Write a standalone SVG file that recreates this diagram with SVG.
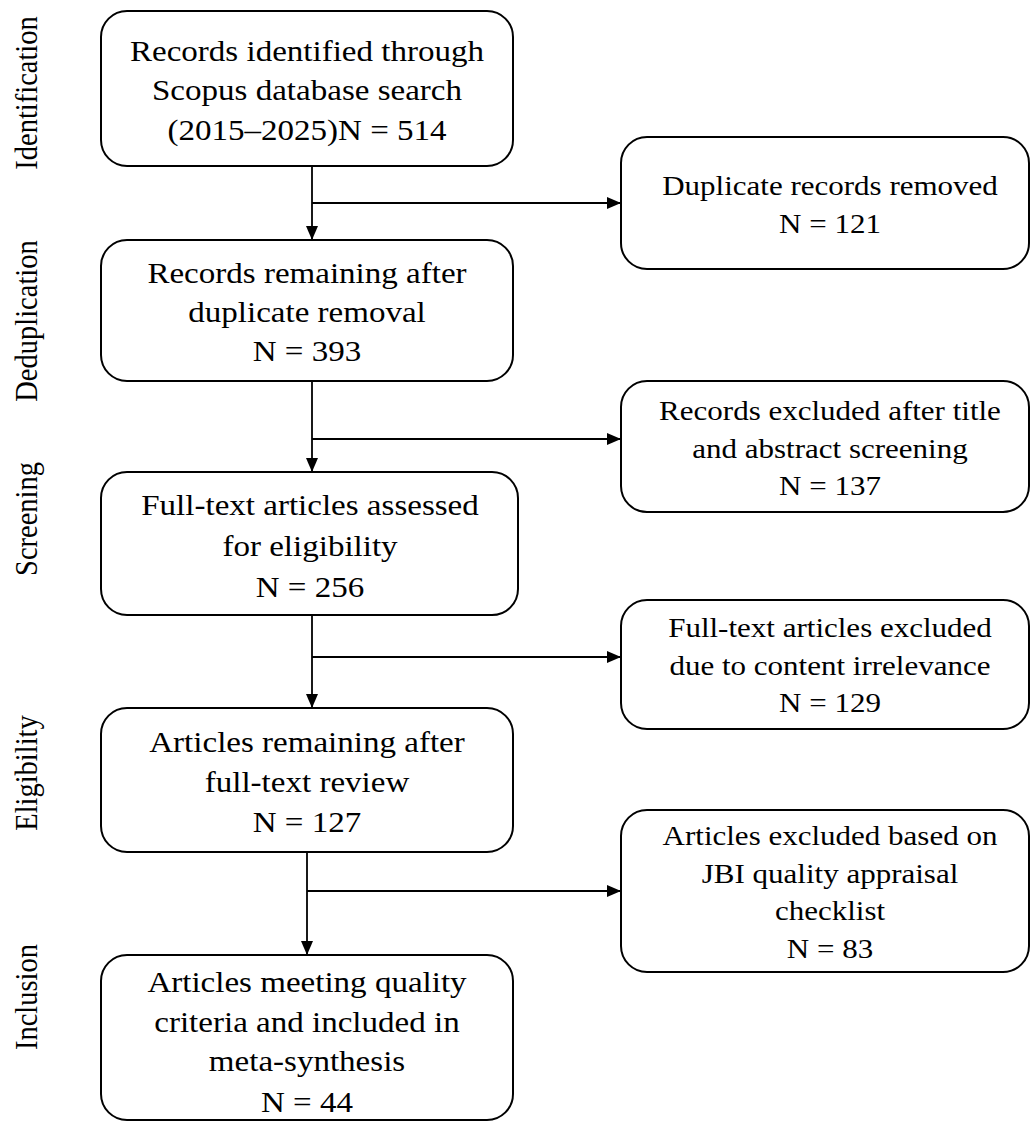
<svg xmlns="http://www.w3.org/2000/svg" width="1030" height="1122" viewBox="0 0 1030 1122">
  <defs>
    <marker id="arr" viewBox="0 0 14 12" refX="14" refY="6" markerWidth="14" markerHeight="12" markerUnits="userSpaceOnUse" orient="auto">
      <path d="M0,0 L14,6 L0,12 Z" fill="#000"/>
    </marker>
    <style>
      .box { fill: #fff; stroke: #000; stroke-width: 2; }
      .conn { fill: none; stroke: #000; stroke-width: 1.8; }
      .lt { font-family: "Liberation Serif", "Times New Roman", serif; font-size: 29.5px; text-anchor: middle; fill: #000; }
      .rt { font-family: "Liberation Serif", "Times New Roman", serif; font-size: 27.7px; text-anchor: middle; fill: #000; }
      .side { font-family: "Liberation Serif", "Times New Roman", serif; font-size: 28.5px; text-anchor: middle; fill: #000; }
    </style>
  </defs>
  <rect width="1030" height="1122" fill="#fff"/>

  <g id="stage-labels">
    <text class="side" transform="translate(37,93) scale(1.12,1) rotate(-90)">Identification</text>
    <text class="side" transform="translate(37,321) scale(1.12,1) rotate(-90)">Deduplication</text>
    <text class="side" transform="translate(37,519) scale(1.12,1) rotate(-90)">Screening</text>
    <text class="side" transform="translate(37,773) scale(1.12,1) rotate(-90)">Eligibility</text>
    <text class="side" transform="translate(37,997) scale(1.12,1) rotate(-90)">Inclusion</text>
  </g>

  <g id="connectors">
    <line class="conn" x1="312" y1="166" x2="312" y2="240" marker-end="url(#arr)"/>
    <line class="conn" x1="312" y1="203" x2="621" y2="203" marker-end="url(#arr)"/>
    <line class="conn" x1="312" y1="381" x2="312" y2="472" marker-end="url(#arr)"/>
    <line class="conn" x1="312" y1="439" x2="621" y2="439" marker-end="url(#arr)"/>
    <line class="conn" x1="312" y1="615" x2="312" y2="708" marker-end="url(#arr)"/>
    <line class="conn" x1="312" y1="657" x2="621" y2="657" marker-end="url(#arr)"/>
    <line class="conn" x1="307" y1="852" x2="307" y2="955" marker-end="url(#arr)"/>
    <line class="conn" x1="307" y1="891" x2="621" y2="891" marker-end="url(#arr)"/>
  </g>

  <g id="identified">
    <rect class="box" x="101" y="11" width="412" height="155" rx="26"/>
    <g transform="translate(307,0) scale(1.12,1)">
      <text class="lt" x="0" y="61">Records identified through</text>
      <text class="lt" x="0" y="100">Scopus database search</text>
      <text class="lt" x="0" y="140">(2015–2025)N = 514</text>
    </g>
  </g>

  <g id="duplicates-removed">
    <rect class="box" x="621" y="137" width="408" height="132" rx="26"/>
    <g transform="translate(830,0) scale(1.12,1)">
      <text class="rt" x="0" y="195">Duplicate records removed</text>
      <text class="rt" x="0" y="233">N = 121</text>
    </g>
  </g>

  <g id="after-dedup">
    <rect class="box" x="101" y="240" width="412" height="141" rx="26"/>
    <g transform="translate(307,0) scale(1.12,1)">
      <text class="lt" x="0" y="283">Records remaining after</text>
      <text class="lt" x="0" y="322">duplicate removal</text>
      <text class="lt" x="0" y="361">N = 393</text>
    </g>
  </g>

  <g id="excluded-screening">
    <rect class="box" x="621" y="381" width="408" height="131" rx="26"/>
    <g transform="translate(830,0) scale(1.12,1)">
      <text class="rt" x="0" y="420">Records excluded after title</text>
      <text class="rt" x="0" y="458">and abstract screening</text>
      <text class="rt" x="0" y="495">N = 137</text>
    </g>
  </g>

  <g id="fulltext-assessed">
    <rect class="box" x="101" y="472" width="417" height="143" rx="26"/>
    <g transform="translate(310,0) scale(1.12,1)">
      <text class="lt" x="0" y="515">Full-text articles assessed</text>
      <text class="lt" x="0" y="556">for eligibility</text>
      <text class="lt" x="0" y="597">N = 256</text>
    </g>
  </g>

  <g id="excluded-irrelevance">
    <rect class="box" x="621" y="600" width="408" height="129" rx="26"/>
    <g transform="translate(830,0) scale(1.12,1)">
      <text class="rt" x="0" y="637">Full-text articles excluded</text>
      <text class="rt" x="0" y="675">due to content irrelevance</text>
      <text class="rt" x="0" y="712">N = 129</text>
    </g>
  </g>

  <g id="after-fulltext">
    <rect class="box" x="101" y="708" width="412" height="144" rx="26"/>
    <g transform="translate(307,0) scale(1.12,1)">
      <text class="lt" x="0" y="752">Articles remaining after</text>
      <text class="lt" x="0" y="792">full-text review</text>
      <text class="lt" x="0" y="832">N = 127</text>
    </g>
  </g>

  <g id="excluded-jbi">
    <rect class="box" x="621" y="810" width="408" height="162" rx="26"/>
    <g transform="translate(830,0) scale(1.12,1)">
      <text class="rt" x="0" y="845">Articles excluded based on</text>
      <text class="rt" x="0" y="883">JBI quality appraisal</text>
      <text class="rt" x="0" y="920">checklist</text>
      <text class="rt" x="0" y="958">N = 83</text>
    </g>
  </g>

  <g id="included">
    <rect class="box" x="101" y="955" width="412" height="165" rx="26"/>
    <g transform="translate(307,0) scale(1.12,1)">
      <text class="lt" x="0" y="992">Articles meeting quality</text>
      <text class="lt" x="0" y="1032">criteria and included in</text>
      <text class="lt" x="0" y="1071">meta-synthesis</text>
      <text class="lt" x="0" y="1112">N = 44</text>
    </g>
  </g>
</svg>
